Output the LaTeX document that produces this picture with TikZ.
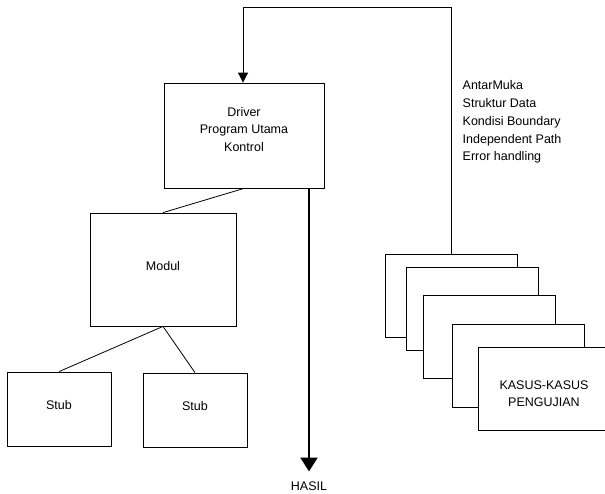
\documentclass[tikz,border=0pt]{standalone}
\usepackage{fontspec}
\setmainfont{Liberation Sans}
\usetikzlibrary{arrows.meta}
\begin{document}
\begin{tikzpicture}[x=1pt,y=-1pt,
  every node/.style={font=\fontsize{12.5}{17.5}\selectfont},
  box/.style={draw, line width=0.8pt, fill=white, inner sep=0pt},
  words/.style={align=center, inner sep=0pt},
  link/.style={line width=0.8pt},
  card/.style={box, minimum width=132pt, minimum height=83pt}]
\useasboundingbox (0,0) rectangle (605,493);

% program structure
\node[box, minimum width=160pt, minimum height=105pt] (driver) at (244,135.5) {};
\node[words] (driverText) at ([yshift=6pt]driver.center) {Driver\\Program Utama\\Kontrol};
\node[box, minimum width=146pt, minimum height=113pt] (modul) at (163,269.5) {};
\node[words] (modulText) at ([yshift=3.5pt]modul.center) {Modul};
\node[box, minimum width=104pt, minimum height=74pt] (stubA) at (59,409) {};
\node[words] (stubAText) at ([yshift=3.5pt]stubA.center) {Stub};
\node[box, minimum width=104pt, minimum height=74pt] (stubB) at (195,410) {};
\node[words] (stubBText) at ([yshift=3.5pt]stubB.center) {Stub};

\draw[link] (driver.south) -- (modul.north);
\draw[link] (modul.south) -- (stubA.north);
\draw[link] (modul.south) -- (stubB.north);

% stack of test cases
\node[card] (caseA) at (451,295.5) {};
\node[card] (caseB) at (472,308.5) {};
\node[card] (caseC) at (489.5,337) {};
\node[card] (caseD) at (518,365.5) {};
\node[card] (caseE) at (544,388.5) {};
\node[words] (caseText) at ([yshift=-5pt]caseE.center) {KASUS-KASUS\\PENGUJIAN};

% what is tested
\node[anchor=north west, align=left, inner sep=0pt,
  font=\fontsize{12.5}{17.75}\selectfont] (aspects) at (462.5,80.5)
  {AntarMuka\\Struktur Data\\Kondisi Boundary\\Independent Path\\Error handling};

% feedback loop into the driver
\draw[link, -{Triangle[length=10pt,width=10pt]}]
  (caseA.north) |- (243,7) -- (driver.north -| 243,0);

% result arrow
\node (hasil) at (309,486) {HASIL};
\coordinate (hasilTip) at (309,471.5);
\draw[line width=2.4pt, -{Triangle[length=14pt,width=17pt]}]
  (driver.south -| hasilTip) -- (hasilTip);
\end{tikzpicture}
\end{document}
